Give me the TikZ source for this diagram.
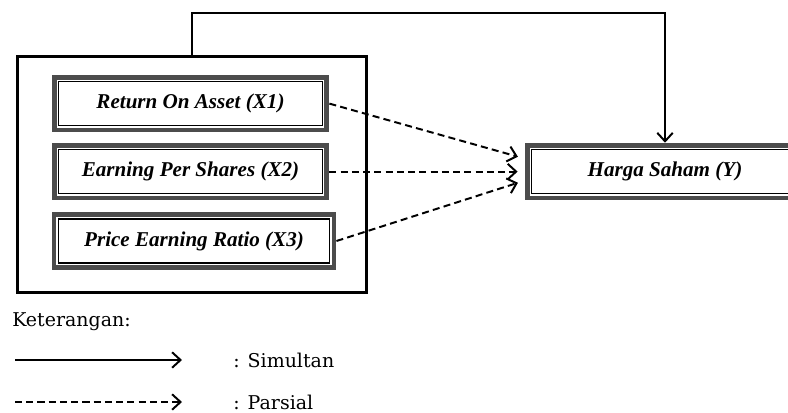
\documentclass[tikz,border=0pt]{standalone}
\usepackage{fontspec}
\setmainfont{Liberation Serif}[BoldItalicFont={Liberation Serif Bold Italic}]
\newfontfamily\legendfont{DejaVu Serif}
\usepackage{tikz}
\usetikzlibrary{arrows.meta,positioning}

\tikzset{
    varbox/.style={draw=black!70, line width=3.5pt, fill=white, inner sep=0pt,
        minimum width=6.82cm, minimum height=1.32cm,
        font=\fontsize{15}{17}\selectfont\bfseries\itshape},
    groupbox/.style={draw, line width=2pt, minimum width=8.73cm, minimum height=5.9cm},
    simline/.style={line width=1.4pt, -{Straight Barb[length=6pt,width=11pt]}},
    parline/.style={simline, dash pattern=on 5pt off 3pt},
    legtext/.style={anchor=west, inner sep=0pt, font=\legendfont\fontsize{13.5}{15}\selectfont}
}

\begin{document}
\begin{tikzpicture}
                \useasboundingbox (0,0) rectangle (19.7,10.3);

                \node[groupbox] (grp) at (4.8,5.9375) {};

                \node[varbox] (x1) at (4.7625,7.71) {Return On Asset (X1)};
                \node[varbox] (x2) at (4.7625,6.01) {Earning Per Shares (X2)};
                \node[varbox, minimum width=7cm] (x3) at (4.85,4.275) {Price Earning Ratio (X3)};
                \node[varbox, minimum width=6.895cm] (y) at (16.625,6.01) {Harga Saham (Y)};

                % inner frame lines
                \foreach \n in {x1,x2,x3,y}
                    \draw[line width=0.9pt] ([shift={(0.17,-0.17)}]\n.north west) rectangle ([shift={(-0.17,0.17)}]\n.south east);

                \draw[simline] (grp.north) -- ++(0,1.05) -| (y.north);

                \draw[parline, shorten >=5pt] (x1.east) -- ([yshift=0.325cm]y.west);
                \draw[parline, shorten >=5pt] (x2.east) -- (y.west);
                \draw[parline, shorten >=5pt] (x3.east) -- ([yshift=-0.225cm]y.west);

                % keterangan
                \node[legtext] (ket) at (0.3,2.25) {Keterangan:};

                \coordinate (s1) at (0.375,1.3);
                \coordinate (s2) at (4.55,1.3);
                \coordinate (p1) at (0.375,0.25);
                \coordinate (p2) at (4.55,0.25);

                \draw[simline] (s1) -- (s2);
                \draw[parline] (p1) -- (p2);

                \node[legtext] (sim) at (5.825,1.3) {: Simultan};
                \node[legtext] (par) at (5.825,0.25) {: Parsial};
            \end{tikzpicture}
\end{document}
